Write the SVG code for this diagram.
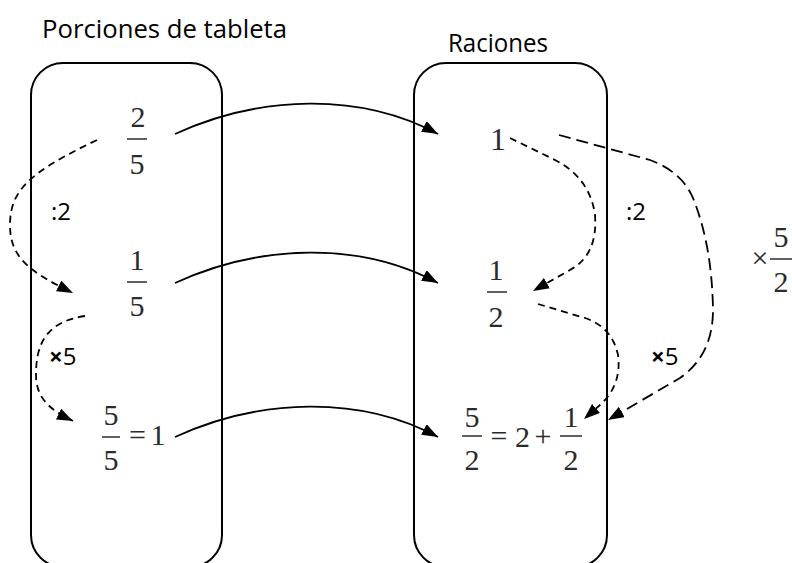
<svg xmlns="http://www.w3.org/2000/svg" width="792" height="563" viewBox="0 0 792 563">
<style>
.box{fill:none;stroke:#000;stroke-width:2}
.title{font-family:"Open Sans","Liberation Sans",sans-serif;font-size:25px;fill:#000}
.lbl{font-family:"Open Sans","Liberation Sans",sans-serif;font-size:24px;fill:#000}
.bx{font-weight:bold}
.m{font-family:"Liberation Serif",serif;font-size:30px;fill:#2b2b2b;text-anchor:middle}
.bar{stroke:#2b2b2b;stroke-width:1.5}
.solid{fill:none;stroke:#000;stroke-width:1.8;marker-end:url(#ah)}
.dash{fill:none;stroke:#000;stroke-width:1.8;stroke-dasharray:7 5;marker-end:url(#ah)}
.ldash{fill:none;stroke:#000;stroke-width:1.8;stroke-dasharray:12 6;marker-end:url(#ah)}
</style>
<defs>
<marker id="ah" viewBox="0 0 16 12" refX="16" refY="6" markerWidth="16" markerHeight="12" markerUnits="userSpaceOnUse" orient="auto">
<path d="M0,0 L16,6 L0,12 z" fill="#000"/>
</marker>
</defs>
<rect width="792" height="563" fill="#fff"/>
<g id="title-left"><text class="title" x="42" y="38" textLength="245" lengthAdjust="spacingAndGlyphs">Porciones de tableta</text></g>
<g id="title-right"><text class="title" x="448" y="52" textLength="100" lengthAdjust="spacingAndGlyphs">Raciones</text></g>
<g id="box-left"><rect class="box" x="31" y="63" width="191" height="504" rx="32"/></g>
<g id="box-right"><rect class="box" x="414" y="63" width="193" height="504" rx="32"/></g>
<g id="n-2-5"><text class="m" x="138" y="127">2</text><line class="bar" x1="127" y1="139" x2="147" y2="139"/><text class="m" x="137" y="174">5</text></g>
<g id="n-1-5"><text class="m" x="137" y="270">1</text><line class="bar" x1="127" y1="282" x2="147" y2="282"/><text class="m" x="137" y="316">5</text></g>
<g id="n-5-5"><text class="m" x="111" y="425">5</text><line class="bar" x1="102" y1="437" x2="120" y2="437"/><text class="m" x="111" y="470">5</text><text class="m" x="137.5" y="445">=</text><text class="m" x="158" y="445">1</text></g>
<g id="n-1"><text class="m" x="498" y="150" style="font-size:32px">1</text></g>
<g id="n-1-2"><text class="m" x="496" y="280">1</text><line class="bar" x1="487" y1="292" x2="507" y2="292"/><text class="m" x="496" y="327">2</text></g>
<g id="n-5-2"><text class="m" x="472" y="427">5</text><line class="bar" x1="462" y1="436" x2="482" y2="436"/><text class="m" x="472" y="470">2</text><text class="m" x="499" y="446">=</text><text class="m" x="522.5" y="447">2</text><text class="m" x="543" y="446">+</text><text class="m" x="571" y="427">1</text><line class="bar" x1="560" y1="436" x2="582" y2="436"/><text class="m" x="571" y="470">2</text></g>
<g id="op-5-2"><text class="m" x="760" y="268" style="font-size:30px">×</text><text class="m" x="781" y="247">5</text><line class="bar" x1="770" y1="259" x2="792" y2="259"/><text class="m" x="781" y="292">2</text></g>
<g id="connectors">
<path class="solid" d="M175,134 C260,95 360,92 438,134"/>
<path class="solid" d="M175,283 C260,244 360,241 438,283"/>
<path class="solid" d="M175,437 C260,398 360,395 438,437"/>
<path class="dash" d="M97,140 C30,172 10,190 10,225 C10,258 30,272 73,293"/>
<path class="dash" d="M85,316 C45,322 36,345 36,375 C36,398 50,410 73,421"/>
<path class="dash" d="M510,138 L555,160 Q590,178 595,215 Q598,255 570,270 L533,291"/>
<path class="dash" d="M538,304 L585,318 Q612,327 618,355 Q622,385 600,405 L584,419"/>
<path class="ldash" d="M559,135 L650,160 Q682,172 693,198 Q712,245 713,310 Q713,355 680,378 L608,420"/>
</g>
<g id="labels">
<text class="lbl" x="51" y="220">:2</text>
<text class="lbl" x="626" y="220">:2</text>
<text class="lbl" x="49" y="365"><tspan class="bx">×</tspan>5</text>
<text class="lbl" x="651" y="365"><tspan class="bx">×</tspan>5</text>
</g>
</svg>
